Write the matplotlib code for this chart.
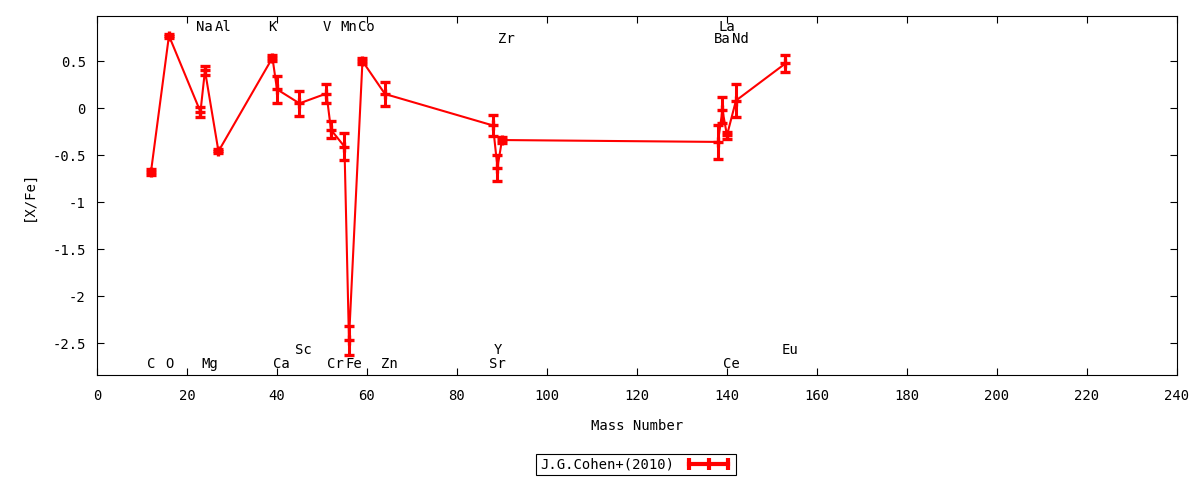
import matplotlib
matplotlib.use('Agg')
import matplotlib.pyplot as plt
from matplotlib.lines import Line2D
from matplotlib.ticker import FuncFormatter

plt.rcParams['font.family'] = ['DejaVu Sans Mono']
plt.rcParams['axes.unicode_minus'] = False

# abundance data, ordered by mass number
elements = ['C', 'O', 'Na', 'Mg', 'Al', 'K', 'Ca', 'Sc', 'V', 'Cr', 'Mn', 'Fe',
            'Co', 'Zn', 'Sr', 'Y', 'Zr', 'Ba', 'La', 'Ce', 'Nd', 'Eu']
mass = [12, 16, 23, 24, 27, 39, 40, 45, 51, 52, 55, 56,
        59, 64, 88, 89, 90, 138, 139, 140, 142, 153]
x_fe = [-0.68, 0.77, -0.04, 0.40, -0.46, 0.535, 0.20, 0.05, 0.155, -0.23, -0.41, -2.47,
        0.50, 0.15, -0.185, -0.635, -0.34, -0.36, -0.02, -0.29, 0.08, 0.475]
err = [0.03, 0.02, 0.05, 0.045, 0.02, 0.03, 0.145, 0.135, 0.106, 0.09, 0.14, 0.156,
       0.03, 0.13, 0.11, 0.137, 0.035, 0.177, 0.136, 0.04, 0.18, 0.09]

# element labels: which row each name sits in
label_rows = {
    0.86: ['Na', 'Al', 'K', 'V', 'Mn', 'Co', 'La'],
    0.73: ['Zr', 'Ba', 'Nd'],
    -2.575: ['Sc', 'Y', 'Eu'],
    -2.72: ['C', 'O', 'Mg', 'Ca', 'Cr', 'Fe', 'Zn', 'Sr', 'Ce'],
}

fs = 10

fig = plt.figure(figsize=(12, 4.8), dpi=100)
ax = fig.add_axes([0.0808, 0.2188, 0.9, 0.7479])

ax.errorbar(mass, x_fe, yerr=err, color='red', lw=1.5, marker='+', ms=7.5, mew=2.4,
            capsize=3.6, capthick=2.2, elinewidth=2.2)

for ypos, names in label_rows.items():
    for name in names:
        m = mass[elements.index(name)]
        ax.text(m - 0.9, ypos, name, ha='left', va='center', fontsize=fs)

ax.set_xlim(0, 240)
ax.set_ylim(-2.84, 0.98)
ax.set_xticks(range(0, 241, 20))
ax.set_yticks([0.5, 0, -0.5, -1, -1.5, -2, -2.5])
ax.yaxis.set_major_formatter(FuncFormatter(lambda v, p: '%g' % v))
ax.tick_params(direction='in', top=True, right=True, length=5, width=0.8,
               labelsize=fs)
ax.tick_params(axis='x', pad=10)
ax.tick_params(axis='y', pad=8)
for s in ax.spines.values():
    s.set_linewidth(0.8)

ax.set_xlabel('Mass Number', fontsize=fs)
ax.set_ylabel('[X/Fe]', fontsize=fs)
ax.xaxis.set_label_coords(0.5, -0.122)
ax.yaxis.set_label_coords(-0.057, 0.5)

handle = Line2D([], [], color='red', lw=3, marker='|', ms=8, mew=3)
leg = fig.legend([handle], ['J.G.Cohen+(2010)'], loc='center',
                 bbox_to_anchor=(0.53, 0.032), numpoints=3, markerfirst=False,
                 fancybox=False, edgecolor='black', framealpha=1,
                 fontsize=fs, borderpad=0.25, handlelength=3.4)
leg.get_frame().set_linewidth(0.8)

fig.savefig('out.png', dpi=100)
